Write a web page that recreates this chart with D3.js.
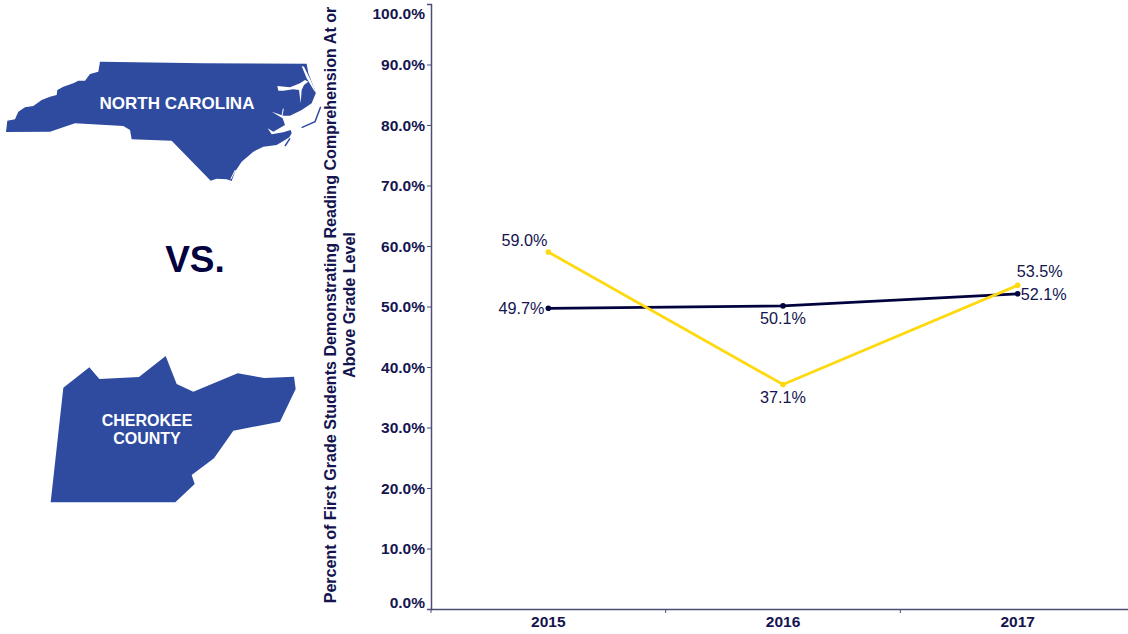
<!DOCTYPE html>
<html><head><meta charset="utf-8">
<script src="https://cdn.jsdelivr.net/npm/d3@7/dist/d3.min.js"></script>
<style>html,body{margin:0;padding:0;background:#fff;overflow:hidden}svg{display:block;font-family:"Liberation Sans",Arial,sans-serif}</style>
</head><body><svg id="c" width="1128" height="634"></svg>
<script>
const years = ["2015","2016","2017"];
const seriesYellow = [59.0,37.1,53.5];
const seriesNavy = [49.7,50.1,52.1];
const yTicks = [0,10,20,30,40,50,60,70,80,90,100];
const yTitleLines = ["Percent of First Grade Students Demonstrating Reading Comprehension At or","Above Grade Level"];
const ncBody = [[300,35],[610,40],[920,41],[925,70],[948,128],[935,160],[905,180],[870,197],[850,197],[815,185],[848,205],[855,225],[820,245],[803,235],[815,253],[850,247],[872,240],[875,250],[868,262],[855,270],[830,285],[790,290],[760,305],[725,335],[705,365],[695,393],[680,388],[650,386],[632,392],[515,272],[395,268],[390,240],[370,228],[225,220],[150,245],[18,246],[22,212],[45,208],[55,185],[75,172],[100,168],[125,150],[150,140],[170,135],[172,120],[190,110],[205,105],[220,100],[235,92],[255,92],[270,72],[295,65]];
const ncAlbemarle = [[832,108],[870,112],[900,100],[915,90],[925,95],[912,105],[905,120],[902,160],[897,120],[880,118],[850,122],[835,122]];
const ncBankChannel = [[905,48],[912,50],[932,90],[950,132],[941,120],[920,85]];
const ncInletSpike = [[850,176],[846,197]];
const ncSouthSlit = [[692,388],[706,360]];
const ncOuterBank = [[905,233],[945,215],[962,170]];
const ncCoreBank = [[855,288],[870,265]];
const cherokee = [[100,143],[178,82],[208,117],[327,111],[407,48],[440,132],[490,155],[623,100],[703,114],[792,110],[797,147],[750,245],[610,272],[552,355],[485,405],[494,432],[436,487],[62,487]];

const NAVY="#02023f", YELLOW="#ffd90f", INK="#14144f", AXIS="#4d4d78", MAP="#2e4b9f";
const svg=d3.select("#c");

// maps
const ncX=d3.scaleLinear().domain([0,990]).range([0,330]);
const ncY=d3.scaleLinear().domain([0,450]).range([50,200]);
const ncLine=d3.line().x(d=>ncX(d[0])).y(d=>ncY(d[1]));
svg.append("path").attr("d",ncLine(ncBody)+"Z").attr("fill",MAP);
[ncAlbemarle,ncBankChannel].forEach(s=>svg.append("path").attr("d",ncLine(s)+"Z").attr("fill","#fff"));
[ncInletSpike,ncSouthSlit].forEach(s=>svg.append("path").attr("d",ncLine(s)).attr("fill","none").attr("stroke","#fff").attr("stroke-width",1));
[ncOuterBank,ncCoreBank].forEach(s=>svg.append("path").attr("d",ncLine(s)).attr("fill","none").attr("stroke",MAP).attr("stroke-width",1.5));
const chX=d3.scaleLinear().domain([0,840]).range([30,310]);
const chY=d3.scaleLinear().domain([0,510]).range([340,510]);
svg.append("path").attr("d",d3.line().x(d=>chX(d[0])).y(d=>chY(d[1]))(cherokee)+"Z").attr("fill",MAP);

const bold=(x,y,t,size,fill)=>svg.append("text").attr("x",x).attr("y",y).attr("text-anchor","middle").attr("dominant-baseline","central").attr("font-weight","bold").attr("font-size",size).attr("fill",fill).text(t);
bold(177,103,"NORTH CAROLINA",17,"#fff");
bold(147,420,"CHEROKEE",16,"#fff");
bold(147,438,"COUNTY",16,"#fff");
bold(195,259,"VS.",37,NAVY);

// chart
const x=d3.scaleBand().domain(years).range([431,1135]);
const y=d3.scaleLinear().domain([0,100]).range([609,4]);
const yLabelNudge={0:-7,100:9};

const gy=svg.append("g").attr("transform","translate(431,0)").call(d3.axisLeft(y).tickValues(yTicks).tickSize(4).tickPadding(2).tickFormat(d=>d3.format(".1f")(d)+"%"));
gy.select(".domain").attr("stroke",AXIS).attr("stroke-width",1.5);
gy.selectAll(".tick line").attr("stroke",AXIS).attr("stroke-width",1);
gy.selectAll(".tick text").attr("fill",INK).attr("font-family","Liberation Sans").attr("font-size",15.5).attr("font-weight","bold").attr("dy",d=>(yLabelNudge[d]||0)+5);

const gx=svg.append("g").attr("transform","translate(0,609)").call(d3.axisBottom(x).tickSize(0).tickPadding(7));
gx.select(".domain").attr("stroke",AXIS).attr("stroke-width",1.5);
gx.selectAll(".tick text").attr("fill",INK).attr("font-family","Liberation Sans").attr("font-size",15.5).attr("font-weight","bold");
years.forEach(yr=>svg.append("line").attr("x1",x(yr)).attr("x2",x(yr)).attr("y1",609).attr("y2",613).attr("stroke",AXIS));

const yt=svg.append("text").attr("transform","translate(336,305) rotate(-90)").attr("text-anchor","middle").attr("font-weight","bold").attr("font-size",16.1).attr("fill",INK);
yTitleLines.forEach((l,i)=>yt.append("tspan").attr("x",0).attr("y",i*19).text(l));

const cx=i=>x(years[i])+x.bandwidth()/2;
const line=d3.line().x((d,i)=>cx(i)).y(d=>y(d));
const labelPlace={
 yellow:[[-24,-12],[0,12],[22,-14]],
 navy:[[-27,0],[0,12],[26,0]]
};
[[seriesNavy,NAVY,"navy"],[seriesYellow,YELLOW,"yellow"]].forEach(([s,c,k])=>{
  svg.append("path").attr("d",line(s)).attr("fill","none").attr("stroke",c).attr("stroke-width",2.8);
  svg.selectAll(null).data(s).enter().append("circle").attr("cx",(d,i)=>cx(i)).attr("cy",d=>y(d)).attr("r",2.8).attr("fill",c);
  svg.selectAll(null).data(s).enter().append("text").attr("x",(d,i)=>cx(i)+labelPlace[k][i][0]).attr("y",(d,i)=>y(d)+labelPlace[k][i][1])
    .attr("text-anchor","middle").attr("dominant-baseline","central").attr("font-size",16.2).attr("fill",INK).text(d=>d3.format(".1f")(d)+"%");
});
</script></body></html>
